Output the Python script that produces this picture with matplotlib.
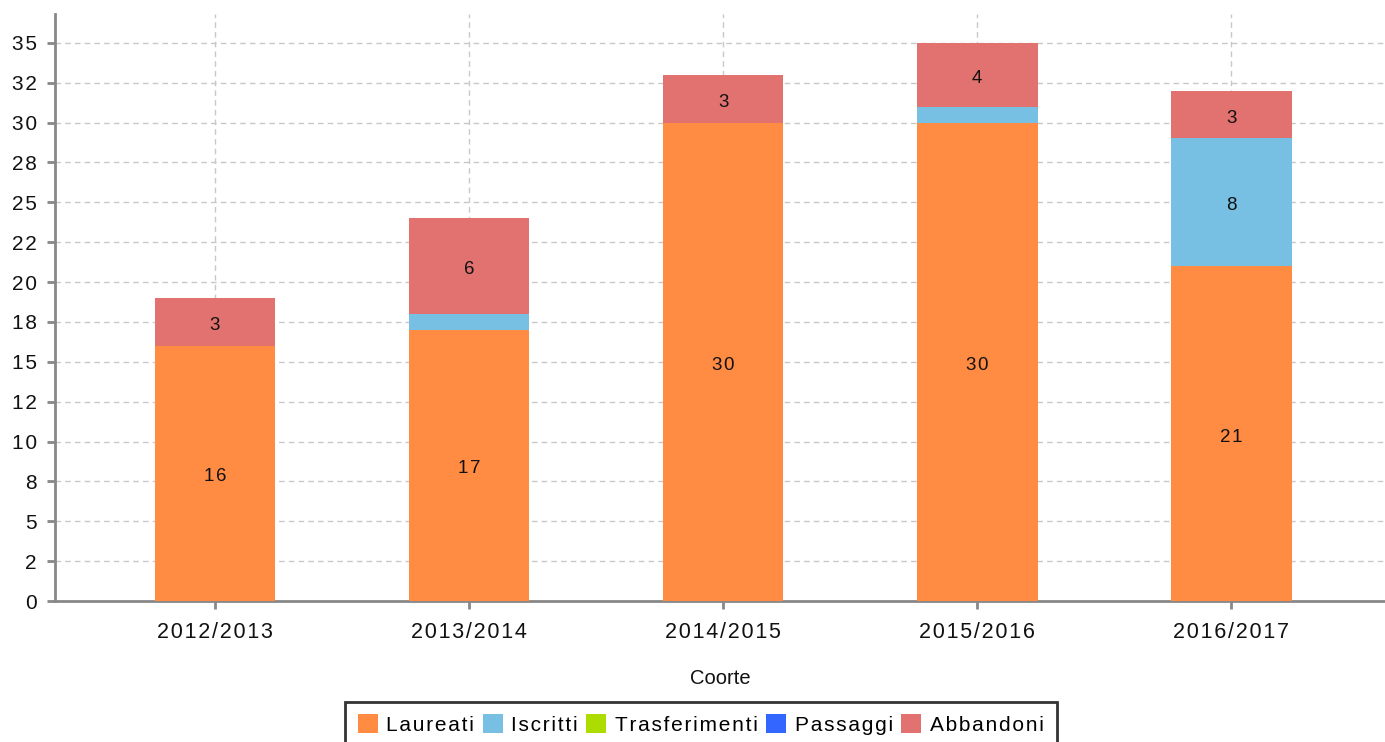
import matplotlib.pyplot as plt
from matplotlib.ticker import MultipleLocator, FuncFormatter
import numpy as np

plt.rcParams['font.family'] = ['Liberation Sans', 'DejaVu Sans']

coorti = ['2012/2013', '2013/2014', '2014/2015', '2015/2016', '2016/2017']
laureati = [16, 17, 30, 30, 21]
iscritti = [0, 1, 0, 1, 8]
trasferimenti = [0, 0, 0, 0, 0]
passaggi = [0, 0, 0, 0, 0]
abbandoni = [3, 6, 3, 4, 3]

series = [
    ('Laureati', laureati, '#ff8c42'),
    ('Iscritti', iscritti, '#77bfe3'),
    ('Trasferimenti', trasferimenti, '#addd00'),
    ('Passaggi', passaggi, '#3366ff'),
    ('Abbandoni', abbandoni, '#e27270'),
]

HAIR = '\u200a'


def spaced(s, sep=HAIR):
    # fake letter spacing, the original renderer spreads glyphs apart
    return sep.join(s)


fig = plt.figure(figsize=(13.85, 7.42), dpi=100)
ax = fig.add_axes([0.0397, 0.19, 0.9603, 0.791])

x = np.arange(len(coorti))
bottom = np.zeros(len(coorti))
for name, vals, col in series:
    vals = np.array(vals, dtype=float)
    ax.bar(x, vals, 0.476, bottom=bottom, color=col, label=spaced(name),
           zorder=3)
    for xi, b, v in zip(x, bottom, vals):
        if v >= 2:
            ax.annotate(spaced(f'{int(v)}'), (xi, b + v / 2), xytext=(0, -2.5),
                        textcoords='offset points', ha='center', va='center',
                        fontsize=13.5, color='#111111', zorder=4)
    bottom += vals

ax.set_xlim(-0.63, 4.606)
ax.set_ylim(0, 36.8)
ax.set_xticks(x)
ax.set_xticklabels([spaced(c) for c in coorti])
ax.yaxis.set_major_locator(MultipleLocator(2.5))
ax.yaxis.set_major_formatter(FuncFormatter(lambda v, p: spaced(str(round(v)))))

ax.grid(True, color='#c8c8c8', linestyle=(0, (4, 3)), linewidth=1, zorder=0)
for s in ['top', 'right']:
    ax.spines[s].set_visible(False)
for s in ['left', 'bottom']:
    ax.spines[s].set_color('#888888')
    ax.spines[s].set_linewidth(2)
ax.tick_params(axis='both', colors='#888888', width=2, length=6,
               labelcolor='#111111', labelsize=15)
ax.tick_params(axis='x', pad=9, labelsize=15.5)
ax.tick_params(axis='y', pad=7)

ax.set_xlabel('Coorte', fontsize=14.5, color='#111111', labelpad=19)

leg = fig.legend(loc='upper center', bbox_to_anchor=(0.506, 0.054), ncol=5,
                 fontsize=15, frameon=True, fancybox=False, edgecolor='black',
                 handlelength=0.96, handleheight=0.96, handletextpad=0.42,
                 columnspacing=0.4, borderpad=0.6, borderaxespad=0)
leg.get_frame().set_linewidth(2)

fig.savefig('out.png', dpi=100)
